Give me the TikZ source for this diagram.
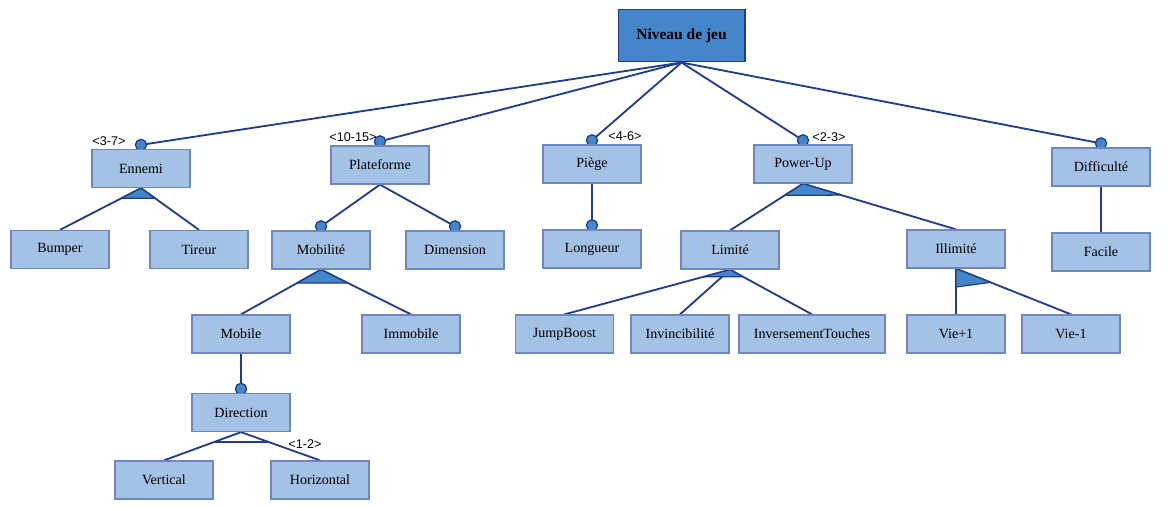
\documentclass[tikz,border=0pt]{standalone}
\usepackage{fontspec}
\setmainfont{Liberation Serif}
\setsansfont{Liberation Sans}
\usetikzlibrary{calc,backgrounds}
\definecolor{navy}{HTML}{203C8C}
\definecolor{featfill}{HTML}{A3C2E5}
\definecolor{featline}{HTML}{6F86C1}
\definecolor{rootfill}{HTML}{4486C9}
\newcommand{\orgrp}[4]{%
  \filldraw[grp] (#1.south) -- ($(#1.south)!#4!(#2.north)$)
    -- ($(#1.south)!#4!(#3.north)$) -- cycle;}

\begin{document}
\begin{tikzpicture}[
  x=0.025cm,y=-0.025cm,
  feat/.style={draw=featline,fill=featfill,line width=0.9pt,minimum width=2.45cm,
    minimum height=0.95cm,inner sep=2pt},
  rootbox/.style={draw=navy,fill=rootfill,line width=1.4pt,minimum width=3.15cm,
    minimum height=1.3cm,font=\fontsize{11}{13}\selectfont\bfseries},
  link/.style={draw=navy,line width=1.3pt},
  opt/.style={draw=navy,fill=rootfill,line width=0.9pt},
  grp/.style={draw=navy,fill=rootfill,line width=0.9pt,line join=round},
  card/.style={font=\sffamily\fontsize{9}{10}\selectfont,inner sep=0pt}
]
  \useasboundingbox (0,0) rectangle (1170,508);

  \node[rootbox] (niv) at (681.5,35.5) {Niveau de jeu};

  \node[feat] (enn) at (141,168.5) {Ennemi};
  \node[feat] (bump) at (60,249.5) {Bumper};
  \node[feat] (tir) at (199,249.5) {Tireur};

  \node[feat] (plat) at (380,165) {Plateforme};
  \node[feat] (mobi) at (321,250) {Mobilité};
  \node[feat] (dim) at (455,250) {Dimension};
  \node[feat] (mob) at (241,334) {Mobile};
  \node[feat] (immo) at (411,334) {Immobile};
  \node[feat] (dir) at (241,412.5) {Direction};
  \node[feat] (vert) at (164,480) {Vertical};
  \node[feat] (hori) at (320,480) {Horizontal};

  \node[feat] (pieg) at (592,164) {Piège};
  \node[feat] (long) at (592,249) {Longueur};

  \node[feat] (pow) at (803,164) {Power-Up};
  \node[feat] (lim) at (730,250) {Limité};
  \node[feat] (illi) at (956,249) {Illimité};
  \node[feat] (jump) at (564.5,334) {JumpBoost};
  \node[feat] (invi) at (680,334) {Invincibilité};
  \node[feat,minimum width=3.65cm] (inve) at (812,334) {InversementTouches};
  \node[feat] (vp) at (956,334) {Vie+1};
  \node[feat] (vm) at (1071,334) {Vie-1};

  \node[feat] (diff) at (1101,167) {Difficulté};
  \node[feat] (fac) at (1101,252) {Facile};

  % cardinalities
  \node[card] (kenn) at (109,141) {<3-7>};
  \node[card] (kplat) at (353,137) {<10-15>};
  \node[card] (kpieg) at (625,136) {<4-6>};
  \node[card] (kpow) at (829,137) {<2-3>};
  \node[card] (kdir) at (305,444) {<1-2>};

  \begin{scope}[on background layer]
    \foreach \f in {enn,plat,pieg,pow,diff,mobi,dim,long,dir}
      \coordinate (o-\f) at ($(\f.north)+(0,-4)$);
    \foreach \f in {enn,plat,pieg,pow,diff}
      \draw[link] (niv.south) -- (o-\f);
    \draw[link] (plat.south) -- (o-mobi);
    \draw[link] (plat.south) -- (o-dim);
    \draw[link] (pieg.south) -- (o-long);
    \draw[link] (mob.south) -- (o-dir);
    \draw[link] (diff.south) -- (fac.north);

    % or-groups
    \draw[link] (enn.south) -- (bump.north);
    \draw[link] (enn.south) -- (tir.north);
    \draw[link] (mobi.south) -- (mob.north);
    \draw[link] (mobi.south) -- (immo.north);
    \draw[link] (pow.south) -- (lim.north);
    \draw[link] (pow.south) -- (illi.north);
    \foreach \f in {jump,invi,inve}
      \draw[link] (lim.south) -- (\f.north);
    \draw[link] (illi.south) -- (vp.north);
    \draw[link] (illi.south) -- (vm.north);
    \orgrp{enn}{bump}{tir}{0.24}
    \orgrp{mobi}{mob}{immo}{0.3}
    \orgrp{pow}{lim}{illi}{0.25}
    \orgrp{lim}{jump}{inve}{0.16}
    \filldraw[grp] (illi.south) -- ($(illi.south)!0.4!(vp.north)$)
      -- ($(illi.south)!0.3!(vm.north)$) -- cycle;

    % alternative
    \draw[link] (dir.south) -- (vert.north);
    \draw[link] (dir.south) -- (hori.north);
    \draw[link] ($(dir.south)!0.34!(vert.north)$) -- ($(dir.south)!0.34!(hori.north)$);

    \foreach \f in {enn,plat,pieg,pow,diff,mobi,dim,long,dir}
      \draw[opt] (o-\f) circle (0.14cm);
  \end{scope}
\end{tikzpicture}
\end{document}
